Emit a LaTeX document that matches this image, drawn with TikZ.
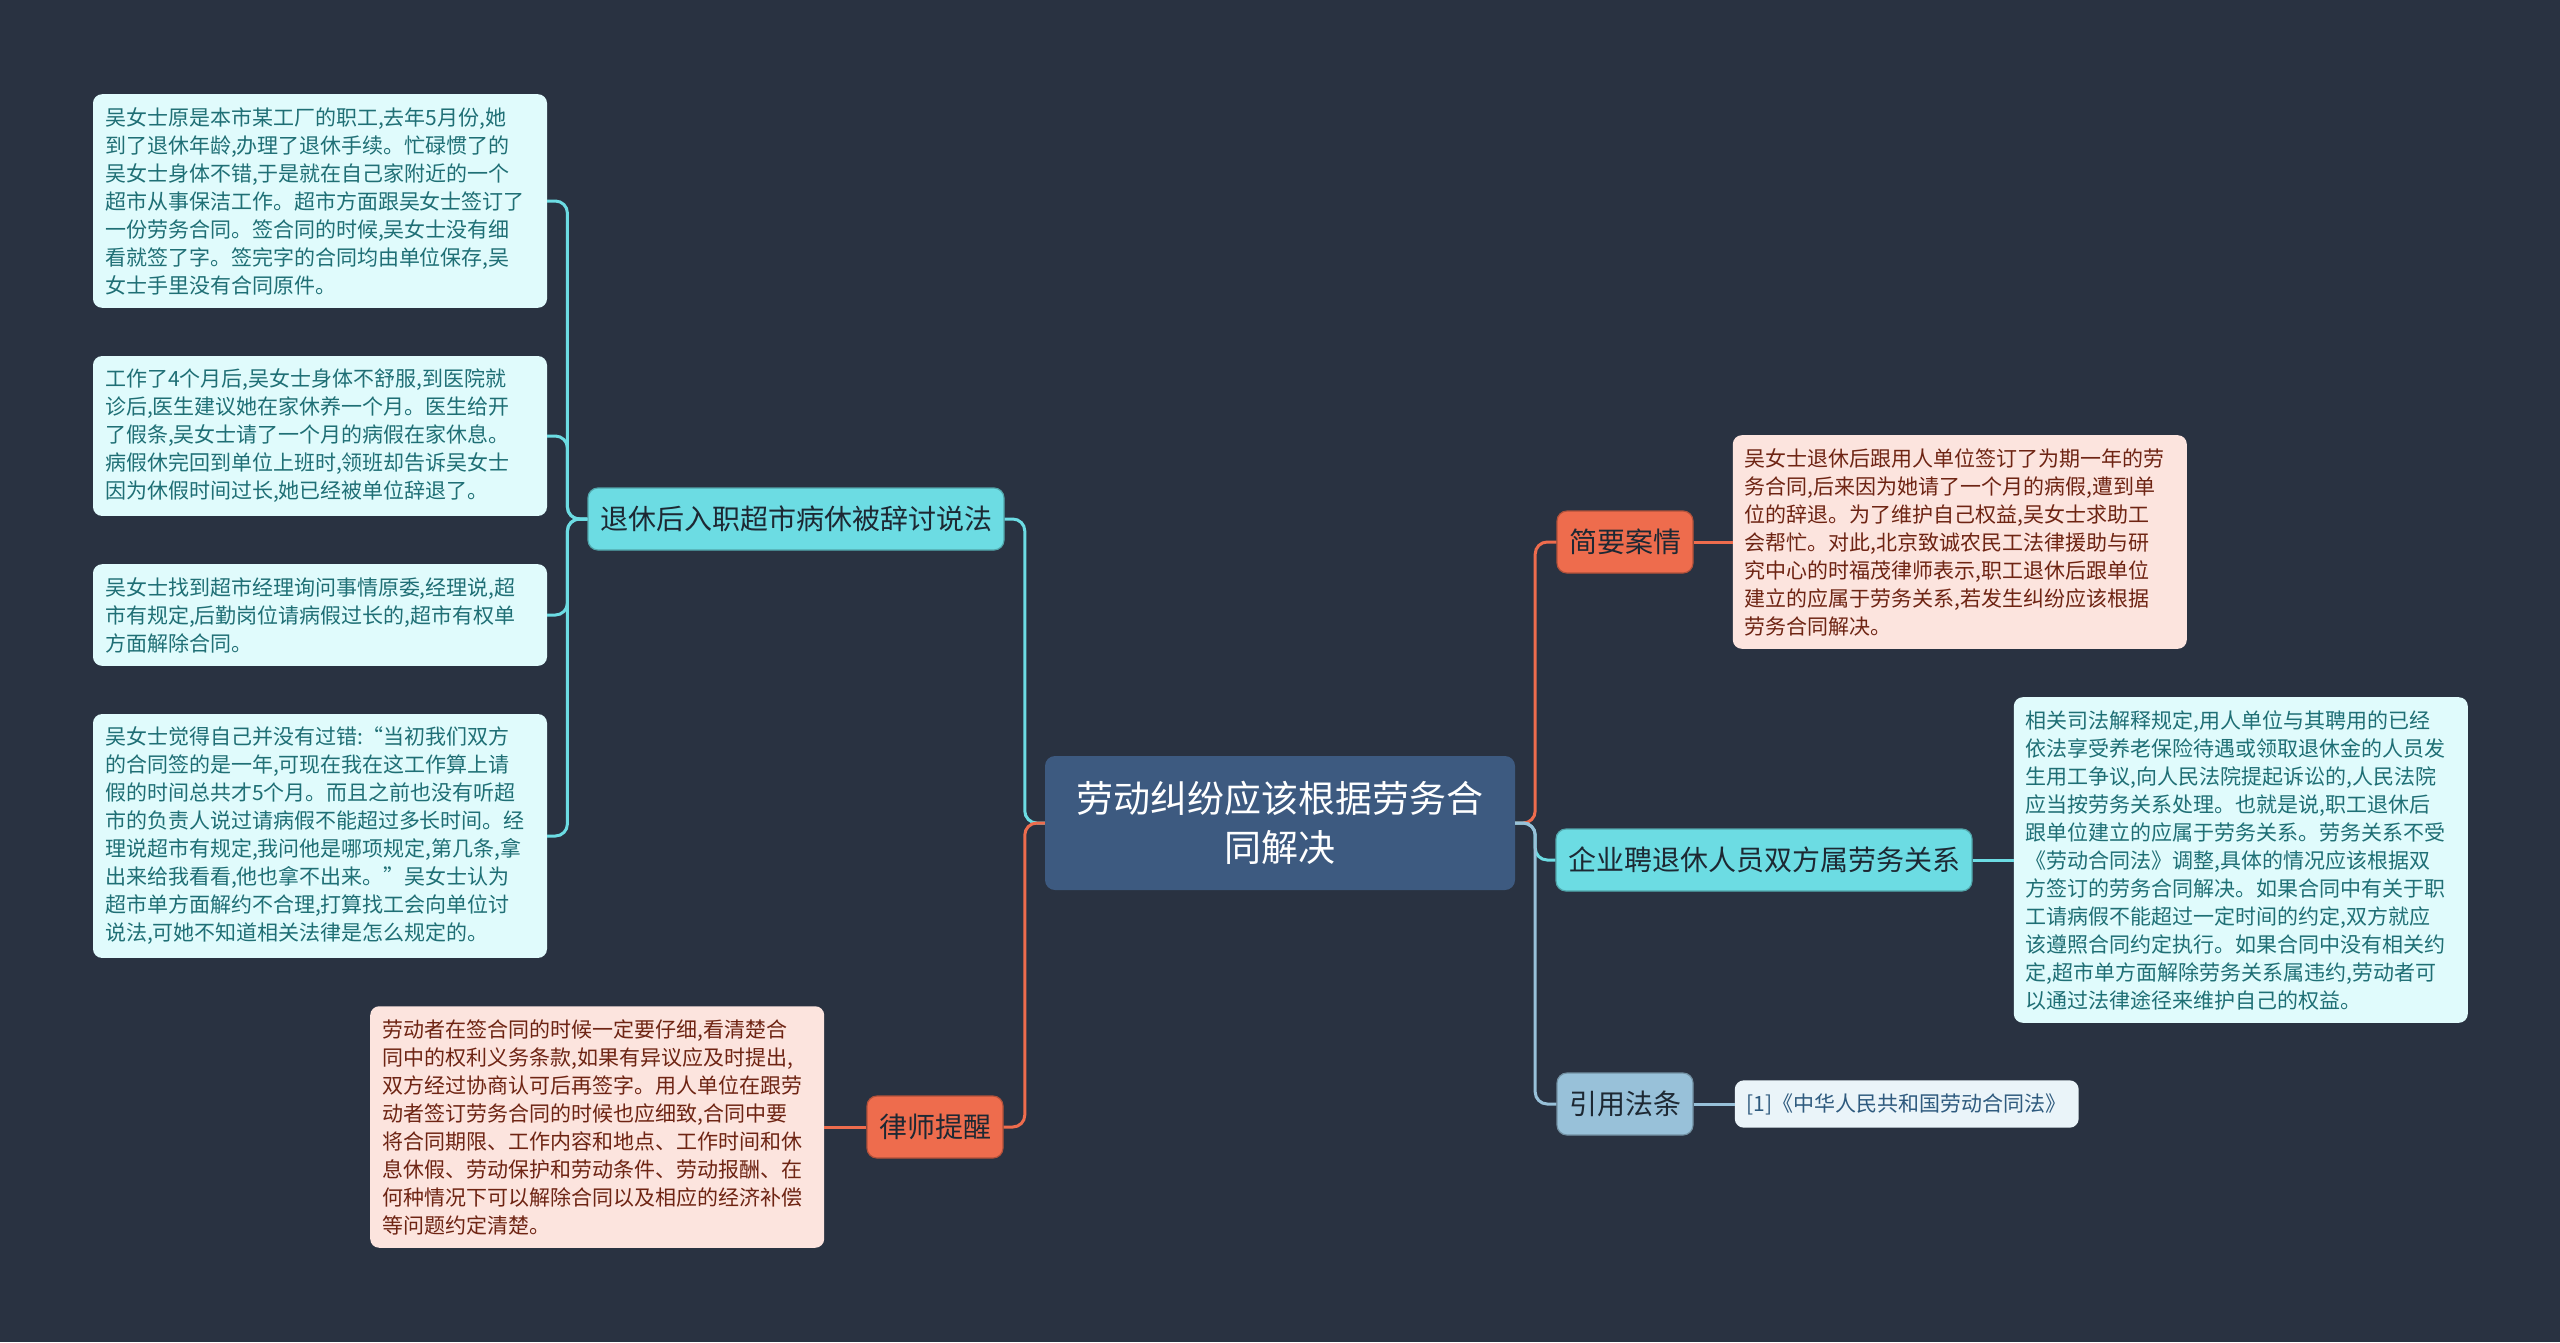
\documentclass[tikz,border=0pt]{standalone}
\usepackage{fontspec}
\setmainfont{Noto Sans CJK SC}
\usetikzlibrary{positioning}
\tikzset{>=latex}
\definecolor{bgnavy}{HTML}{293241}
\definecolor{rootblue}{HTML}{3D5A80}
\definecolor{topiccyan}{HTML}{6CDCE3}
\definecolor{topicorange}{HTML}{EE6C4D}
\definecolor{topicblue}{HTML}{98C1D9}
\definecolor{notecyan}{HTML}{E0FBFC}
\definecolor{notepink}{HTML}{FCE4DE}
\definecolor{noteblue}{HTML}{EAF4F9}
\definecolor{textteal}{HTML}{1F6F75}
\definecolor{textred}{HTML}{6E2413}
\definecolor{textblue}{HTML}{2E5A7E}
\definecolor{textdark}{HTML}{1D2833}

\begin{document}
\begin{tikzpicture}[x=1pt,y=-1pt,
   link/.style={line width=3pt,rounded corners=12pt},
   root/.style={fill=rootblue,text=white,rounded corners=10pt,minimum width=470pt,
      minimum height=134pt,align=center,font=\fontsize{37}{49}\selectfont},
   topic/.style={rounded corners=10pt,minimum height=62pt,inner xsep=12pt,inner ysep=0pt,
      line width=1.2pt,font=\fontsize{28}{34}\selectfont},
   note/.style={rounded corners=9pt,text width=430pt,align=left,inner xsep=12pt,
      inner ysep=13pt,font=\fontsize{21}{28}\selectfont},
   cyantopic/.style={topic,fill=topiccyan,draw=topiccyan!75!black,text=textdark},
   orangetopic/.style={topic,fill=topicorange,draw=topicorange!75!black,text=textdark},
   bluetopic/.style={topic,fill=topicblue,draw=topicblue!75!black,text=textdark},
   cyannote/.style={note,fill=notecyan,text=textteal},
   pinknote/.style={note,fill=notepink,text=textred},
   node distance=40pt,
]
\useasboundingbox (0,0) rectangle (2560,1342);
\fill[bgnavy] (0,0) rectangle (2560,1342);

% centre and main topics
\node[root] (root) at (1280,823) {劳动纠纷应该根据劳务合\\同解决};
\node[cyantopic] (tuixiu) at (796,519) {退休后入职超市病休被辞讨说法};
\node[orangetopic] (lvshi) at (935,1127) {律师提醒};
\node[orangetopic] (anqing) at (1625,542) {简要案情};
\node[cyantopic] (qiye) at (1764,860) {企业聘退休人员双方属劳务关系};
\node[bluetopic] (fatiao) at (1625,1104) {引用法条};

% left notes
\node[cyannote] (case1) at (320,201) {吴女士原是本市某工厂的职工,去年5月份,她\\
到了退休年龄,办理了退休手续。忙碌惯了的\\
吴女士身体不错,于是就在自己家附近的一个\\
超市从事保洁工作。超市方面跟吴女士签订了\\
一份劳务合同。签合同的时候,吴女士没有细\\
看就签了字。签完字的合同均由单位保存,吴\\
女士手里没有合同原件。};
\node[cyannote] (case2) at (320,436) {工作了4个月后,吴女士身体不舒服,到医院就\\
诊后,医生建议她在家休养一个月。医生给开\\
了假条,吴女士请了一个月的病假在家休息。\\
病假休完回到单位上班时,领班却告诉吴女士\\
因为休假时间过长,她已经被单位辞退了。};
\node[cyannote] (case3) at (320,615) {吴女士找到超市经理询问事情原委,经理说,超\\
市有规定,后勤岗位请病假过长的,超市有权单\\
方面解除合同。};
\node[cyannote] (case4) at (320,836) {吴女士觉得自己并没有过错:“当初我们双方\\
的合同签的是一年,可现在我在这工作算上请\\
假的时间总共才5个月。而且之前也没有听超\\
市的负责人说过请病假不能超过多长时间。经\\
理说超市有规定,我问他是哪项规定,第几条,拿\\
出来给我看看,他也拿不出来。”吴女士认为\\
超市单方面解约不合理,打算找工会向单位讨\\
说法,可她不知道相关法律是怎么规定的。};
\node[pinknote,left=42pt of lvshi] (tixing) {劳动者在签合同的时候一定要仔细,看清楚合\\
同中的权利义务条款,如果有异议应及时提出,\\
双方经过协商认可后再签字。用人单位在跟劳\\
动者签订劳务合同的时候也应细致,合同中要\\
将合同期限、工作内容和地点、工作时间和休\\
息休假、劳动保护和劳动条件、劳动报酬、在\\
何种情况下可以解除合同以及相应的经济补偿\\
等问题约定清楚。};

% right notes
\node[pinknote,right=39pt of anqing] (jianyao) {吴女士退休后跟用人单位签订了为期一年的劳\\
务合同,后来因为她请了一个月的病假,遭到单\\
位的辞退。为了维护自己权益,吴女士求助工\\
会帮忙。对此,北京致诚农民工法律援助与研\\
究中心的时福茂律师表示,职工退休后跟单位\\
建立的应属于劳务关系,若发生纠纷应该根据\\
劳务合同解决。};
\node[cyannote,right=41pt of qiye] (guanxi) {相关司法解释规定,用人单位与其聘用的已经\\
依法享受养老保险待遇或领取退休金的人员发\\
生用工争议,向人民法院提起诉讼的,人民法院\\
应当按劳务关系处理。也就是说,职工退休后\\
跟单位建立的应属于劳务关系。劳务关系不受\\
《劳动合同法》调整,具体的情况应该根据双\\
方签订的劳务合同解决。如果合同中有关于职\\
工请病假不能超过一定时间的约定,双方就应\\
该遵照合同约定执行。如果合同中没有相关约\\
定,超市单方面解除劳务关系属违约,劳动者可\\
以通过法律途径来维护自己的权益。};
\node[note,text width=,fill=noteblue,text=textblue,right=41pt of fatiao] (falv)
   {[1]《中华人民共和国劳动合同法》};

% connectors
\draw[link,topiccyan] (root.west) -- ++(-20,0) |- (tuixiu.east);
\draw[link,topicorange] (root.west) -- ++(-20,0) |- (lvshi.east);
\draw[link,topicorange] (root.east) -- ++(20,0) |- (anqing.west);
\draw[link,topiccyan] (root.east) -- ++(20,0) |- (qiye.west);
\draw[link,topicblue] (root.east) -- ++(20,0) |- (fatiao.west);
\foreach \n in {case1,case2,case3,case4}
   \draw[link,topiccyan] (tuixiu.west) -- ++(-20,0) |- (\n.east);
\draw[link,topicorange] (lvshi.west) -- (tixing.east);
\draw[link,topicorange] (anqing.east) -- (jianyao.west);
\draw[link,topiccyan] (qiye.east) -- (guanxi.west);
\draw[link,topicblue] (fatiao.east) -- (falv.west);
\end{tikzpicture}
\end{document}
